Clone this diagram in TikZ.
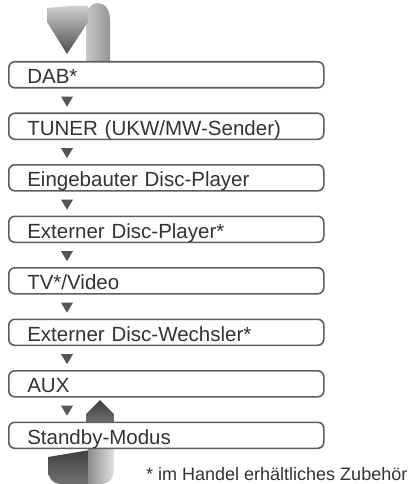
\documentclass[tikz,border=0pt]{standalone}
\usepackage{fontspec}
\setmainfont{Liberation Sans}
\usetikzlibrary{calc}
\definecolor{txt}{HTML}{333333}
\definecolor{frame}{HTML}{5E5E5E}
\definecolor{tri}{HTML}{555555}
\begin{document}
\begin{tikzpicture}[x=1pt,y=-1pt,
  stepbox/.style={draw=frame, line width=1.6pt, rounded corners=6pt, fill=white,
    anchor=north west, minimum width=315pt, minimum height=26pt,
    text width=278pt, align=left, inner xsep=18.5pt, inner ysep=0pt,
    text height=18pt, text depth=0pt, text=txt,
    font=\fontsize{20.5}{24}\selectfont},
  tristyle/.style={fill=tri}]
\useasboundingbox (0,0) rectangle (412,484);
% top ribbon (behind DAB box)
\shade[left color=black!22, right color=black!42]
  (86,64) -- (86,18) .. controls (86,8) and (92,3) .. (98,3)
  .. controls (105,3) and (110,10) .. (110,20) -- (110,64) -- cycle;
\shade[top color=black!18, bottom color=black!70]
  (47,8) .. controls (60,7) and (75,5) .. (88,6) -- (88,22) -- (67,54) -- (47,22) -- cycle;
% bottom ribbon
\shade[top color=black!75, bottom color=black!55]
  (48,457) -- (90,450) -- (90,484) -- (60,484) .. controls (53,484) and (48,478) .. (48,470) -- cycle;
\shade[left color=black!45, right color=black!12]
  (88,440) -- (114,440) -- (114,468) .. controls (114,479) and (109,484) .. (100,484) -- (88,484) -- cycle;
\shade[top color=black!75, bottom color=black!55]
  (86,424) -- (86,414) -- (100,400) -- (114,414) -- (114,424) -- cycle;
% boxes
\node[stepbox] (dab) at (8,61) {DAB*};
\node[stepbox] (tuner) at (8,112.5) {TUNER (UKW/MW-Sender)};
\node[stepbox] (eing) at (8,164) {Eingebauter Disc-Player};
\node[stepbox] (extp) at (8,215.5) {Externer Disc-Player*};
\node[stepbox] (tv) at (8,267) {TV*/Video};
\node[stepbox] (wech) at (8,318.5) {Externer Disc-Wechsler*};
\node[stepbox] (aux) at (8,370) {AUX};
\node[stepbox] (stby) at (8,421.5) {Standby-Modus};
% small triangles
\foreach \a in {dab,tuner,eing,extp,tv,wech,aux}
  \fill[tristyle] ($(\a.south west)+(53,8)$) -- ++(12,0) -- ++(-6,10) -- cycle;
\node[anchor=base west, inner sep=0pt, text=txt, font=\fontsize{18}{21}\selectfont]
  (note) at (146,480) {* im Handel erhältliches Zubehör};
\end{tikzpicture}
\end{document}
